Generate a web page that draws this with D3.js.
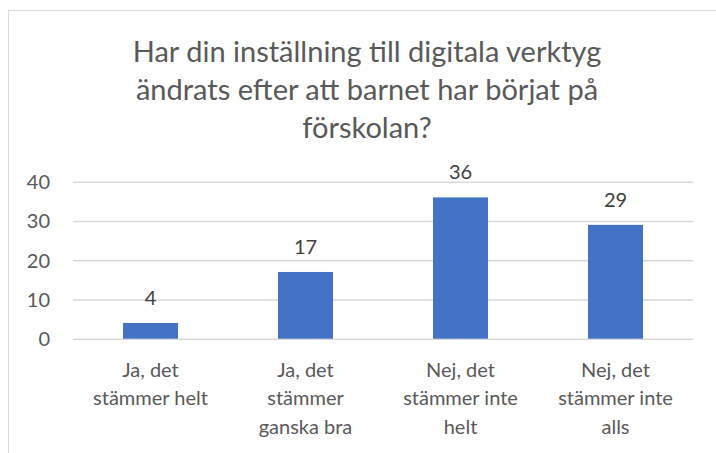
<!DOCTYPE html>
<html>
<head>
<meta charset="utf-8">
<script src="https://cdn.jsdelivr.net/npm/d3@7"></script>
<style>
  html, body { margin: 0; padding: 0; background: #fff; }
  svg { display: block; }
  text { font-family: Lato, "Open Sans", sans-serif; }
</style>
</head>
<body>
<script>
// Survey answers and counts
const categories = [
  ["Ja, det", "stämmer helt"],
  ["Ja, det", "stämmer", "ganska bra"],
  ["Nej, det", "stämmer inte", "helt"],
  ["Nej, det", "stämmer inte", "alls"]
];
const values = [4, 17, 36, 29];
const yTicks = [0, 10, 20, 30, 40];
const titleLines = [
  "Har din inställning till digitala verktyg",
  "ändrats efter att barnet har börjat på",
  "förskolan?"
];

const W = 716, H = 453;
const svg = d3.select("body").append("svg").attr("width", W).attr("height", H);

// chart frame
svg.append("rect")
  .attr("x", 8.5).attr("y", 10.5)
  .attr("width", W + 20).attr("height", H + 20)
  .attr("fill", "#fff").attr("stroke", "#d9d9d9").attr("stroke-width", 1);

const plot = { left: 73, right: 693, top: 181.7, bottom: 338.7 };

const x = d3.scaleBand()
  .domain(d3.range(categories.length))
  .range([plot.left, plot.right])
  .paddingInner(0.645)
  .paddingOuter(0.3225);

const y = d3.scaleLinear().domain([0, 40]).range([plot.bottom, plot.top]);

// title
svg.append("g").selectAll("text").data(titleLines).join("text")
  .attr("x", 367)
  .attr("y", (d, i) => 61.7 + i * 38)
  .attr("text-anchor", "middle")
  .attr("font-size", 29)
  .attr("fill", "#595959")
  .text(d => d);

// gridlines + y labels
const yAxis = d3.axisLeft(y).tickValues(yTicks).tickSize(-(plot.right - plot.left)).tickPadding(23);
const gy = svg.append("g").attr("transform", `translate(${plot.left},0)`).call(yAxis);
gy.select(".domain").remove();
gy.selectAll(".tick line").attr("stroke", "#d9d9d9").attr("stroke-width", 1.5);
gy.selectAll(".tick text")
  .attr("fill", "#595959")
  .attr("font-size", 20)
  .attr("dy", "0.35em")
  .style("font-family", "Lato, 'Open Sans', sans-serif");

// bars
svg.append("g").selectAll("rect").data(values).join("rect")
  .attr("x", (d, i) => x(i))
  .attr("y", d => y(d))
  .attr("width", x.bandwidth())
  .attr("height", d => y(0) - y(d))
  .attr("fill", "#4472c4");

// value labels
svg.append("g").selectAll("text").data(values).join("text")
  .attr("x", (d, i) => x(i) + x.bandwidth() / 2)
  .attr("y", d => y(d) - 18)
  .attr("text-anchor", "middle")
  .attr("font-size", 20)
  .attr("fill", "#404040")
  .text(d => d);

// category labels
const xg = svg.append("g");
categories.forEach((lines, i) => {
  const t = xg.append("text")
    .attr("x", x(i) + x.bandwidth() / 2)
    .attr("y", 376.7)
    .attr("text-anchor", "middle")
    .attr("font-size", 20)
    .attr("fill", "#595959");
  lines.forEach((ln, j) => {
    t.append("tspan")
      .attr("x", x(i) + x.bandwidth() / 2)
      .attr("y", 376.7 + j * 28.7)
      .text(ln);
  });
});
</script>
</body>
</html>
